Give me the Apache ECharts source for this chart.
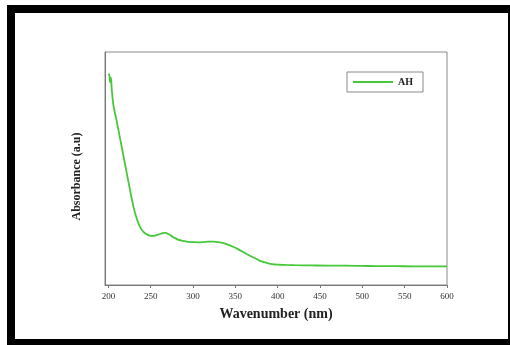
<!DOCTYPE html>
<html>
<head>
<meta charset="utf-8">
<script src="https://cdn.jsdelivr.net/npm/echarts@6/dist/echarts.min.js"></script>
<style>
  html, body { margin: 0; padding: 0; background: #fff; }
  #wrap { position: relative; width: 510px; height: 345px; overflow: hidden; }
  #chart { position: absolute; left: 0; top: 0; width: 510px; height: 345px; }
  #frame {
    position: absolute; left: 7px; top: 5px; width: 510px; height: 345px;
    box-sizing: border-box; border-left: 8px solid #000; border-top: 8px solid #000;
    border-right: 0; border-bottom: 0; pointer-events: none;
  }
  #frameB { position: absolute; left: 7px; top: 339px; width: 503px; height: 6px; background: #000; }
  #frameR { position: absolute; left: 508px; top: 5px; width: 2px; height: 340px; background: #000; }
</style>
</head>
<body>
<div id="wrap">
  <div id="chart"></div>
  <div id="frame"></div>
  <div id="frameB"></div>
  <div id="frameR"></div>
</div>
<script>
// wavelength (nm) and absorbance (a.u)
var wavelengths = [200, 201, 202, 203, 204, 206, 210, 214, 218, 222, 226, 230, 234, 238, 242, 246, 250, 254, 258, 262, 266, 268, 270, 274, 278, 282, 288, 294, 300, 306, 312, 318, 324, 330, 336, 342, 348, 354, 360, 366, 372, 378, 384, 390, 396, 402, 410, 420, 440, 460, 480, 500, 520, 540, 560, 580, 600];
var absorbance  = [0.900, 0.905, 0.870, 0.890, 0.840, 0.770, 0.700, 0.625, 0.550, 0.475, 0.400, 0.330, 0.280, 0.245, 0.226, 0.216, 0.211, 0.211, 0.215, 0.220, 0.224, 0.224, 0.220, 0.212, 0.203, 0.195, 0.189, 0.185, 0.184, 0.183, 0.184, 0.186, 0.186, 0.184, 0.180, 0.172, 0.163, 0.152, 0.140, 0.128, 0.117, 0.106, 0.098, 0.092, 0.088, 0.087, 0.086, 0.085, 0.084, 0.083, 0.083, 0.082, 0.081, 0.081, 0.080, 0.080, 0.080];
var xTicks = [200, 250, 300, 350, 400, 450, 500, 550, 600];

var pts = [];
for (var i = 0; i < wavelengths.length; i++) {
  pts.push([wavelengths[i], absorbance[i]]);
}

var chart = echarts.init(document.getElementById('chart'));
var serif = '"Liberation Serif", "DejaVu Serif", serif';

chart.setOption({
  animation: false,
  backgroundColor: '#fff',
  grid: {
    left: 105, top: 52, width: 342, height: 233,
    show: true, borderColor: '#8a8a8a', borderWidth: 1, backgroundColor: 'transparent'
  },
  legend: {
    left: 347, top: 72,
    padding: [5, 10, 5, 6],
    itemWidth: 40, itemHeight: 2, itemGap: 4,
    borderColor: '#8a8a8a', borderWidth: 1,
    textStyle: { fontFamily: serif, fontWeight: 'bold', fontSize: 10, color: '#222' },
    data: [{ name: 'AH', icon: 'rect' }]
  },
  xAxis: {
    type: 'value',
    min: 196, max: 600,
    name: 'Wavenumber (nm)',
    nameLocation: 'middle', nameGap: 22,
    nameTextStyle: { fontFamily: serif, fontWeight: 'bold', fontSize: 14, color: '#222' },
    axisLine: { lineStyle: { color: '#777', width: 1 } },
    axisTick: { show: true, length: 3, customValues: xTicks, lineStyle: { color: '#777' } },
    axisLabel: { customValues: xTicks, fontFamily: serif, fontSize: 9, color: '#333', margin: 7 },
    splitLine: { show: false }
  },
  yAxis: {
    type: 'value',
    min: 0, max: 1,
    name: 'Absorbance (a.u)',
    nameLocation: 'middle', nameGap: 22,
    nameTextStyle: { fontFamily: serif, fontWeight: 'bold', fontSize: 12, color: '#222', padding: [0, 0, 0, -16] },
    axisLine: { show: true, lineStyle: { color: '#777', width: 1 } },
    axisTick: { show: false },
    axisLabel: { show: false },
    splitLine: { show: false }
  },
  series: [{
    name: 'AH',
    type: 'line',
    data: pts,
    symbol: 'none',
    smooth: 0.3,
    lineStyle: { color: '#45c83a', width: 1.8 },
    itemStyle: { color: '#45c83a' }
  }]
});
</script>
</body>
</html>
